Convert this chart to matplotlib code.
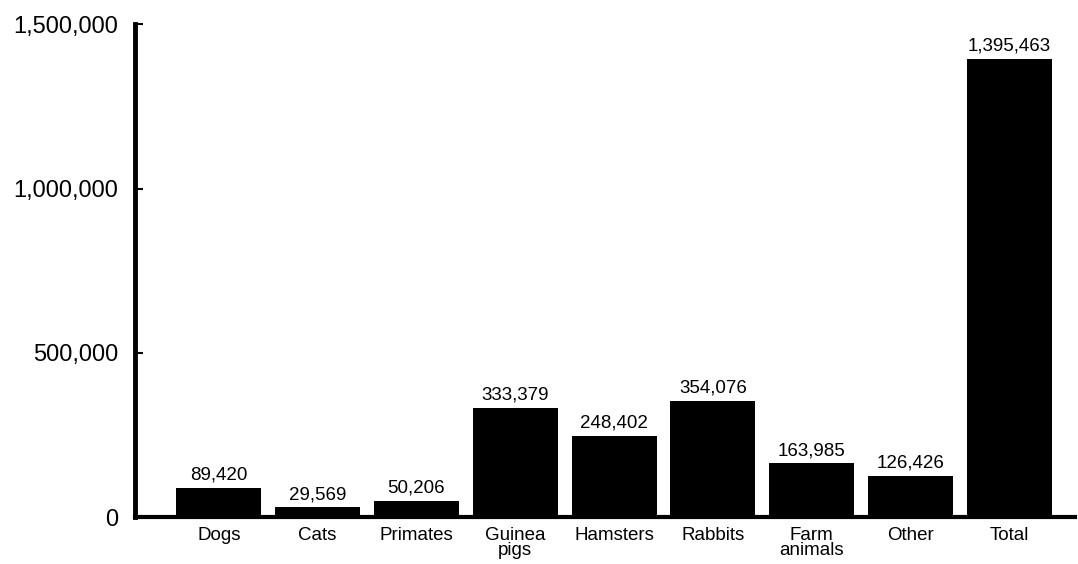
import matplotlib
matplotlib.use('Agg')
import matplotlib.pyplot as plt

categories = ['Dogs', 'Cats', 'Primates', 'Guinea\npigs', 'Hamsters', 'Rabbits',
              'Farm\nanimals', 'Other', 'Total']
values = [89420, 29569, 50206, 333379, 248402, 354076, 163985, 126426, 1395463]
yticks = [0, 500000, 1000000, 1500000]

plt.rcParams['font.family'] = ['Liberation Sans', 'DejaVu Sans']

fig = plt.figure(figsize=(10.78, 5.64), dpi=100)
ax = fig.add_axes([0.125, 0.083, 0.872, 0.874])

x = list(range(len(categories)))
ax.bar(x, values, width=0.86, color='black')
for xi, v in zip(x, values):
    ax.text(xi, v + 12000, f'{v:,}', ha='center', va='bottom', fontsize=13.5)

ax.set_xlim(-0.85, 8.66)
ax.set_ylim(0, 1500000)
ax.set_xticks(x)
ax.set_xticklabels(categories, fontsize=13.5, linespacing=0.85)
ax.tick_params(axis='x', length=0, pad=7)
ax.set_yticks(yticks)
ax.set_yticklabels([f'{t:,}' for t in yticks], fontsize=17)
ax.tick_params(axis='y', direction='in', length=6, width=1.5, pad=12)

for s in ['top', 'right']:
    ax.spines[s].set_visible(False)
ax.spines['left'].set_linewidth(3.5)
ax.spines['bottom'].set_linewidth(3)

fig.savefig('out.png', dpi=100)
